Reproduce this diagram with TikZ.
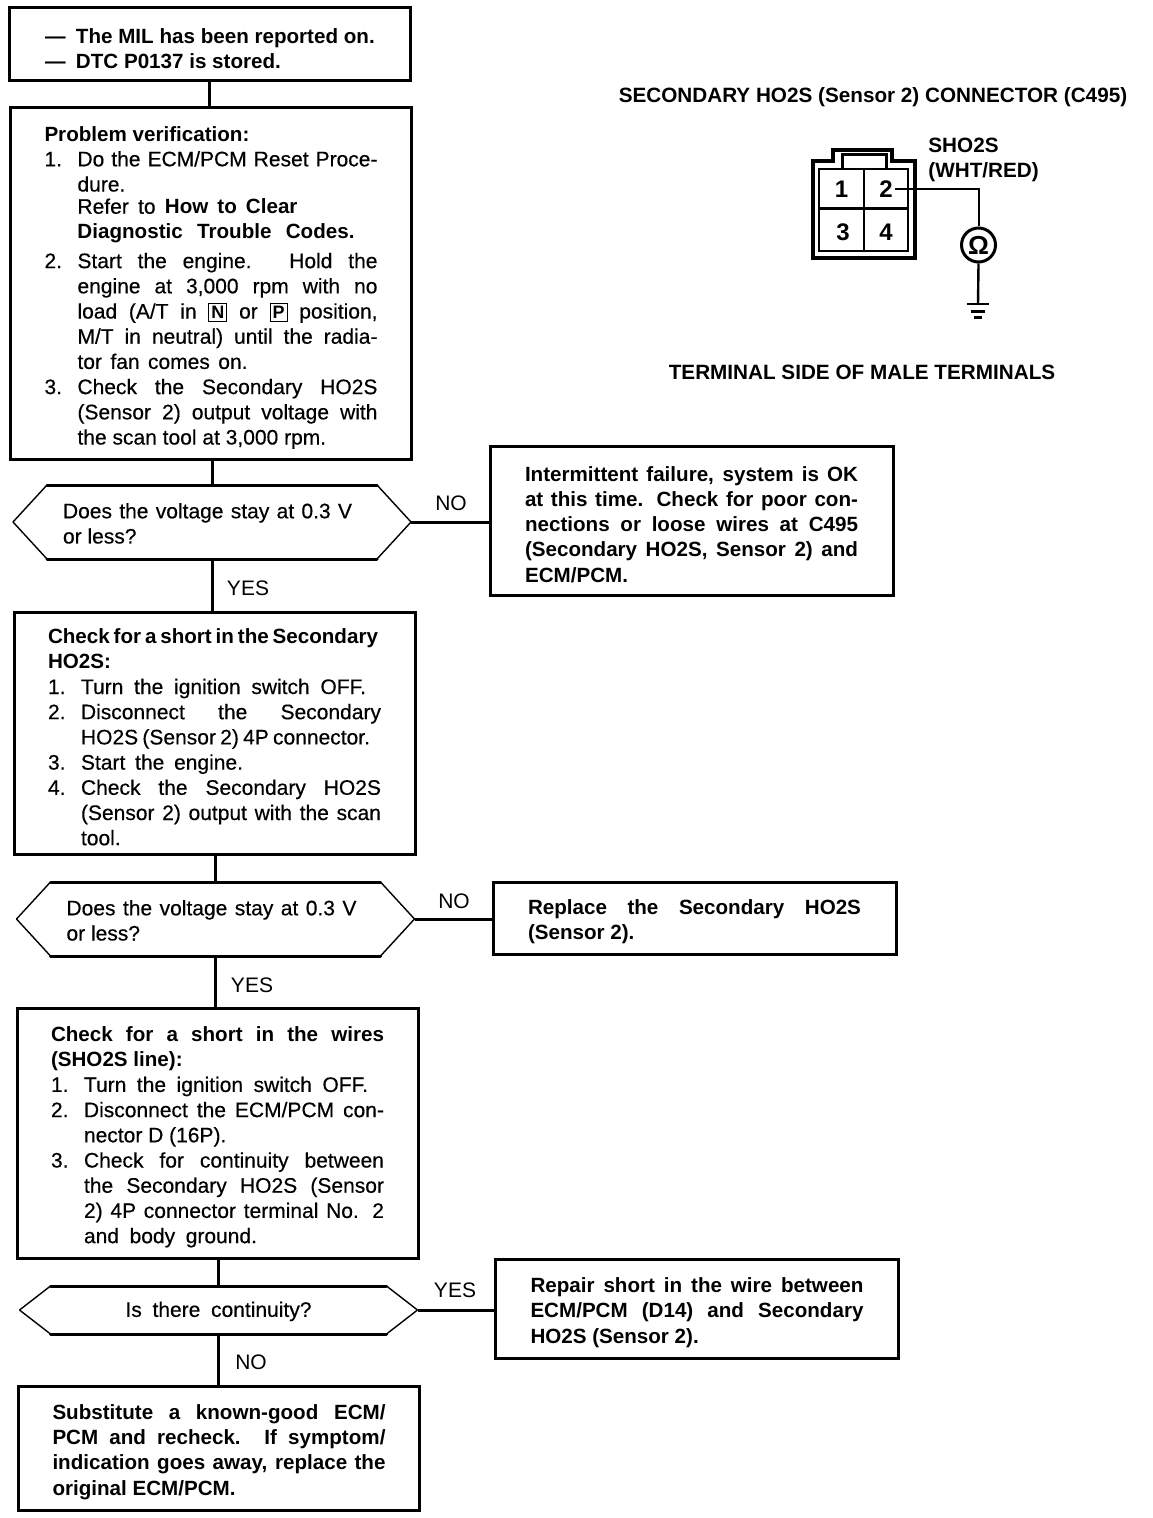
\documentclass[tikz,border=0pt]{standalone}
\usepackage{fontspec}
\setmainfont{Liberation Sans}
\newfontfamily\medfont{Liberation Sans}[FakeBold=0.4]
\newcommand{\hd}{\normalfont\bfseries\fontsize{10.3}{12.6}\selectfont}
\newcommand{\itm}[1]{\makebox[16.5pt][l]{#1}}
\newcommand{\ind}{\hspace*{16.5pt}}
\newcommand{\fl}[1]{\makebox[166.5pt][s]{#1}}
\newcommand{\fli}[1]{\makebox[150pt][s]{#1}}
\newcommand{\wl}[2]{\makebox[#1][s]{#2}}
\newcommand{\keybox}[1]{\raisebox{0pt}[0pt][0pt]{\setlength{\fboxsep}{1pt}\setlength{\fboxrule}{0.5pt}\fbox{\normalfont\bfseries\fontsize{9}{9}\selectfont #1}}}
\newcommand{\hexedge}[2]{
  \draw[thinedge] (#1.west) -- ([xshift=#2]#1.north west);
  \draw[thinedge] (#1.west) -- ([xshift=#2]#1.south west);
  \draw[thinedge] (#1.east) -- ([xshift=-#2]#1.north east);
  \draw[thinedge] (#1.east) -- ([xshift=-#2]#1.south east);
  \draw[heavyedge] ([xshift=#2]#1.north west) -- ([xshift=-#2]#1.north east);
  \draw[heavyedge] ([xshift=#2]#1.south west) -- ([xshift=-#2]#1.south east);
}
\tikzset{
  txt/.style={font=\medfont\fontsize{10.5}{12.6}\selectfont},
  stepbox/.style={txt, draw, line width=1.5pt, inner xsep=17pt, inner ysep=0pt,
    text width=166.5pt, align=flush left, minimum height=#1,
    execute at begin node=\rule{0pt}{11.5pt}},
  resbox/.style={stepbox=#1, inner xsep=17.5pt},
  qbox/.style={txt, inner xsep=25pt, inner ysep=0pt, outer sep=0pt, text width=149pt,
    align=flush left, minimum height=#1, execute at begin node=\rule{0pt}{9pt}},
  thinedge/.style={line width=0.7pt},
  heavyedge/.style={line width=1.5pt, line cap=round},
  wire/.style={line width=1.5pt},
  tag/.style={font=\fontsize{10.5}{12.6}\selectfont, inner sep=1pt},
  caption/.style={font=\bfseries\fontsize{10.35}{12.6}\selectfont, inner sep=0pt},
  pin/.style={font=\bfseries\fontsize{12}{12.6}\selectfont, inner sep=1pt}
}
\begin{document}
\begin{tikzpicture}[x=0.5pt,y=-0.5pt]
      \useasboundingbox (0,0) rectangle (1152,1518);
      \node[stepbox=36.5pt] (start) at (209.5,44.5) {\hd
        \hspace*{1pt}\makebox[15.5pt][l]{---}The MIL has been reported on.\\
        \hspace*{1pt}\makebox[15.5pt][l]{---}DTC P0137 is stored.};
      \node[stepbox=175.5pt] (verify) at (211,283.5) {
        {\hd Problem verification:}\\
        \itm{1.}\fli{Do the ECM/PCM Reset Proce-}\\
        \ind dure.\\[-1.5pt]
        \ind\wl{110pt}{Refer to {\hd How to Clear}}\\
        \ind{\hd\wl{138.5pt}{Diagnostic Trouble Codes.}}\\[2pt]
        \itm{2.}\fli{Start the engine. Hold the}\\
        \ind\fli{engine at 3,000 rpm with no}\\
        \ind\fli{load (A/T in \keybox{N} or \keybox{P} position,}\\
        \ind\fli{M/T in neutral) until the radia-}\\
        \ind\wl{85pt}{tor fan comes on.}\\
        \itm{3.}\fli{Check the Secondary HO2S}\\
        \ind\fli{(Sensor 2) output voltage with}\\
        \ind the scan tool at 3,000 rpm.};
      \node[qbox=37pt] (stay1) at (212,522) {\wl{144.5pt}{Does the voltage stay at 0.3 V}\\or less?};
      \node[resbox=74.5pt] (okbox) at (691.5,520.5) {\hd
        \fl{Intermittent failure, system is OK}\\
        \fl{at this time. Check for poor con-}\\
        \fl{nections or loose wires at C495}\\
        \fl{(Secondary HO2S, Sensor 2) and}\\
        ECM/PCM.};
      \node[stepbox=121pt] (short1) at (214.5,733) {
        {\hd\wl{165pt}{Check for a short in the Secondary}}\\
        {\hd HO2S:}\\
        \itm{1.}\wl{142.5pt}{Turn the ignition switch OFF.}\\
        \itm{2.}\fli{Disconnect the Secondary}\\
        \ind\wl{144.5pt}{HO2S (Sensor 2) 4P connector.}\\
        \itm{3.}\wl{81pt}{Start the engine.}\\
        \itm{4.}\fli{Check the Secondary HO2S}\\
        \ind\fli{(Sensor 2) output with the scan}\\
        \ind tool.};
      \node[qbox=37pt] (stay2) at (215.5,919) {\wl{145pt}{Does the voltage stay at 0.3 V}\\or less?};
      \node[resbox=36pt] (rep1) at (694.5,918) {\hd
        \fl{Replace the Secondary HO2S}\\
        (Sensor 2).};
      \node[stepbox=125pt] (short2) at (217.5,1133) {
        {\hd\fl{Check for a short in the wires}}\\
        {\hd (SHO2S line):}\\
        \itm{1.}\wl{142pt}{Turn the ignition switch OFF.}\\
        \itm{2.}\fli{Disconnect the ECM/PCM con-}\\
        \ind nector D (16P).\\
        \itm{3.}\fli{Check for continuity between}\\
        \ind\fli{the Secondary HO2S (Sensor}\\
        \ind\fli{2) 4P connector terminal No. 2}\\
        \ind\wl{86.5pt}{and body ground.}};
      \node[qbox=24pt, align=flush center] (cont) at (218.5,1310) {\wl{93pt}{Is there continuity?}};
      \node[resbox=49.5pt] (rep2) at (697,1308.5) {\hd
        \fl{Repair short in the wire between}\\
        \fl{ECM/PCM (D14) and Secondary}\\
        HO2S (Sensor 2).};
      \node[stepbox=62pt] (subst) at (219,1448) {\hd
        \fl{Substitute a known-good ECM/}\\
        \fl{PCM and recheck. If symptom/}\\
        \fl{indication goes away, replace the}\\
        original ECM/PCM.};
      \hexedge{stay1}{17pt}
      \hexedge{stay2}{17pt}
      \hexedge{cont}{15.5pt}
      \begin{scope}[wire]
        \draw (start.south) -- (start.south |- verify.north);
        \draw (stay1.north) -- (stay1.north |- verify.south);
        \draw (stay1.south) -- (stay1.south |- short1.north);
        \draw (stay2.north) -- (stay2.north |- short1.south);
        \draw (stay2.south) -- (stay2.south |- short2.north);
        \draw (cont.north) -- (cont.north |- short2.south);
        \draw (cont.south) -- (cont.south |- subst.north);
        \draw (stay1.east) -- (stay1.east -| okbox.west);
        \draw (stay2.east) -- (stay2.east -| rep1.west);
        \draw (cont.east) -- (cont.east -| rep2.west);
      \end{scope}
      \node[tag] (no1) at (451,503) {NO};
      \node[tag] (yes1) at (248,588) {YES};
      \node[tag] (no2) at (454,901) {NO};
      \node[tag] (yes2) at (252,985) {YES};
      \node[tag] (yes3) at (455,1290) {YES};
      \node[tag] (no3) at (251,1362) {NO};
      \node[caption] (title) at (873,97) {SECONDARY HO2S (Sensor 2) CONNECTOR (C495)};
      \node[caption] (side) at (862,372) {TERMINAL SIDE OF MALE TERMINALS};
      \node[caption, align=flush left, anchor=west] (sho) at (928,160) {SHO2S\\(WHT/RED)};
      \draw[line width=2pt] (813,161) -- (833,161) -- (833,150) -- (892,150) -- (892,161)
        -- (915,161) -- (915,258) -- (813,258) -- cycle;
      \draw[line width=1.5pt] (842,169) -- (842,155) -- (886,155) -- (886,169);
      \draw[line width=1pt] (819,169) rectangle (908,251);
      \draw[line width=0.8pt] (864,169) -- (864,251);
      \draw[line width=1.5pt] (819,209) -- (908,209);
      \node[pin] (t1) at (841.5,189) {1};
      \node[pin] (t2) at (886,189) {2};
      \node[pin] (t3) at (843,232) {3};
      \node[pin] (t4) at (886,232) {4};
      \node[draw, circle, line width=1.5pt, minimum size=17pt, inner sep=0pt, font=\bfseries\fontsize{13}{13}\selectfont] (ohm) at (978.5,245) {Ω};
      \coordinate (gnd) at (978,304);
      \draw[line width=1pt] (t2.east) -| (ohm.north);
      \draw[line width=1.2pt] (ohm.south) -- (gnd);
      \draw[line width=1pt] ([xshift=-5.5pt]gnd) -- ([xshift=5.5pt]gnd);
      \draw[line width=1.5pt] ([xshift=-3.5pt,yshift=-4pt]gnd) -- ([xshift=3.5pt,yshift=-4pt]gnd);
      \draw[line width=1.5pt] ([xshift=-2pt,yshift=-7pt]gnd) -- ([xshift=2pt,yshift=-7pt]gnd);
    \end{tikzpicture}
\end{document}
